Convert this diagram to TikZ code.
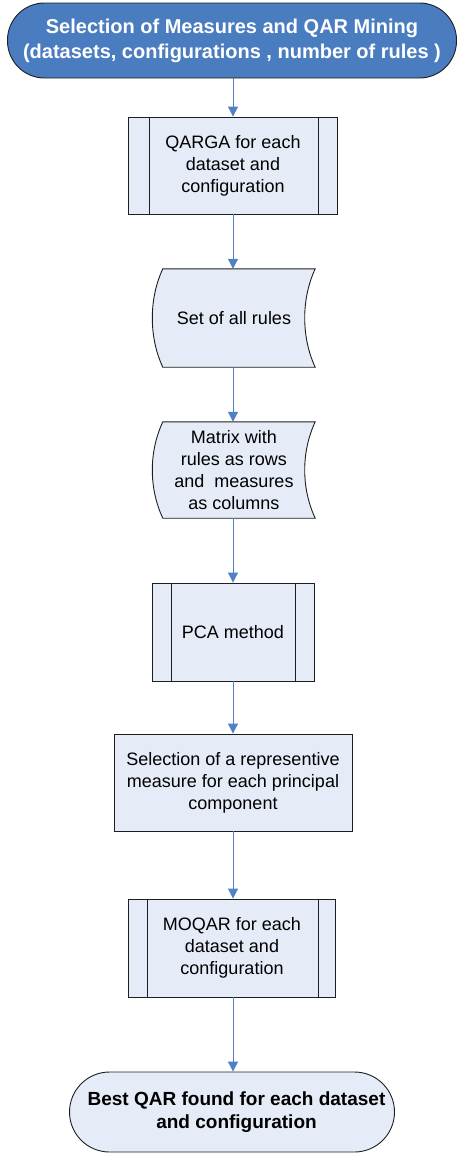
\documentclass[tikz,border=0pt]{standalone}
\usepackage{fontspec}
\setmainfont{Liberation Sans}
\usetikzlibrary{arrows.meta,backgrounds}
\definecolor{darkblue}{RGB}{74,124,192}
\definecolor{lightfill}{RGB}{230,236,247}
\definecolor{arrowblue}{RGB}{79,129,196}
\definecolor{edge}{RGB}{30,30,30}
\tikzset{
  base/.style={align=center, font=\fontsize{18}{22}\selectfont, inner sep=0pt},
  boxnode/.style={base, draw=edge, line width=0.9pt, fill=lightfill, rectangle},
  procnode/.style={boxnode},
  datanode/.style={base, draw=none},
  termtop/.style={base, draw=edge, line width=0.9pt, fill=darkblue, text=white,
     rounded corners=37pt, font=\fontsize{20}{25}\selectfont\bfseries},
  termbot/.style={base, draw=edge, line width=0.9pt, fill=lightfill,
     rounded corners=40pt, font=\fontsize{19}{23}\selectfont\bfseries},
  arr/.style={draw=arrowblue, line width=1pt, -{Triangle[width=10pt,length=10pt]}},
  innerline/.style={draw=edge, line width=0.9pt},
  shapeline/.style={draw=edge, line width=0.9pt, fill=lightfill}
}
\begin{document}
\begin{tikzpicture}[x=1pt,y=-1pt]
\useasboundingbox (0,0) rectangle (463,1154);

\node[termtop, minimum width=449pt, minimum height=75pt] (top) at (232,40.5)
  {Selection of Measures and QAR Mining\\(datasets, configurations , number of rules )};

\node[procnode, minimum width=209pt, minimum height=97pt] (qarga) at (233,165.5)
  {QARGA for each\\dataset and\\configuration};
\draw[innerline] ([xshift=21pt]qarga.north west) -- ([xshift=21pt]qarga.south west);
\draw[innerline] ([xshift=-20pt]qarga.north east) -- ([xshift=-20pt]qarga.south east);

\node[datanode, minimum width=162pt, minimum height=98pt] (set) at (234,318)
  {Set of all rules};
\node[datanode, minimum width=162pt, minimum height=96pt] (matrix) at (234,470)
  {Matrix with\\rules as rows\\and~~measures\\as columns};

\begin{scope}[on background layer]
\foreach \n in {set,matrix}{
  \path[shapeline]
    ([xshift=10pt]\n.north west)
    .. controls ([xshift=-4pt,yshift=-30pt]\n.north west) and ([xshift=-4pt,yshift=30pt]\n.south west) ..
    ([xshift=10pt]\n.south west) -- (\n.south east)
    .. controls ([xshift=-14pt,yshift=30pt]\n.south east) and ([xshift=-14pt,yshift=-30pt]\n.north east) ..
    (\n.north east) -- cycle;
}
\end{scope}

\node[procnode, minimum width=162pt, minimum height=98pt] (pca) at (233,632)
  {PCA method};
\draw[innerline] ([xshift=20pt]pca.north west) -- ([xshift=20pt]pca.south west);
\draw[innerline] ([xshift=-19pt]pca.north east) -- ([xshift=-19pt]pca.south east);

\node[boxnode, minimum width=238pt, minimum height=97pt] (sel) at (233,782.5)
  {Selection of a representive\\measure for each principal\\component};

\node[procnode, minimum width=207pt, minimum height=98pt] (moqar) at (232,948)
  {MOQAR for each\\dataset and\\configuration};
\draw[innerline] ([xshift=19pt]moqar.north west) -- ([xshift=19pt]moqar.south west);
\draw[innerline] ([xshift=-18pt]moqar.north east) -- ([xshift=-18pt]moqar.south east);

\node[termbot, minimum width=325pt, minimum height=80pt] (best) at (232,1112)
  {\hspace*{9pt}Best QAR found for each dataset\\\hspace*{9pt}and configuration};

\draw[arr] (top.south -| 233,0) -- (qarga.north -| 233,0);
\draw[arr] (qarga.south -| 233,0) -- (set.north -| 233,0);
\draw[arr] (set.south -| 233,0) -- (matrix.north -| 233,0);
\draw[arr] (matrix.south -| 233,0) -- (pca.north -| 233,0);
\draw[arr] (pca.south -| 233,0) -- (sel.north -| 233,0);
\draw[arr] (sel.south -| 233,0) -- (moqar.north -| 233,0);
\draw[arr] (moqar.south -| 233,0) -- (best.north -| 233,0);
\end{tikzpicture}
\end{document}
